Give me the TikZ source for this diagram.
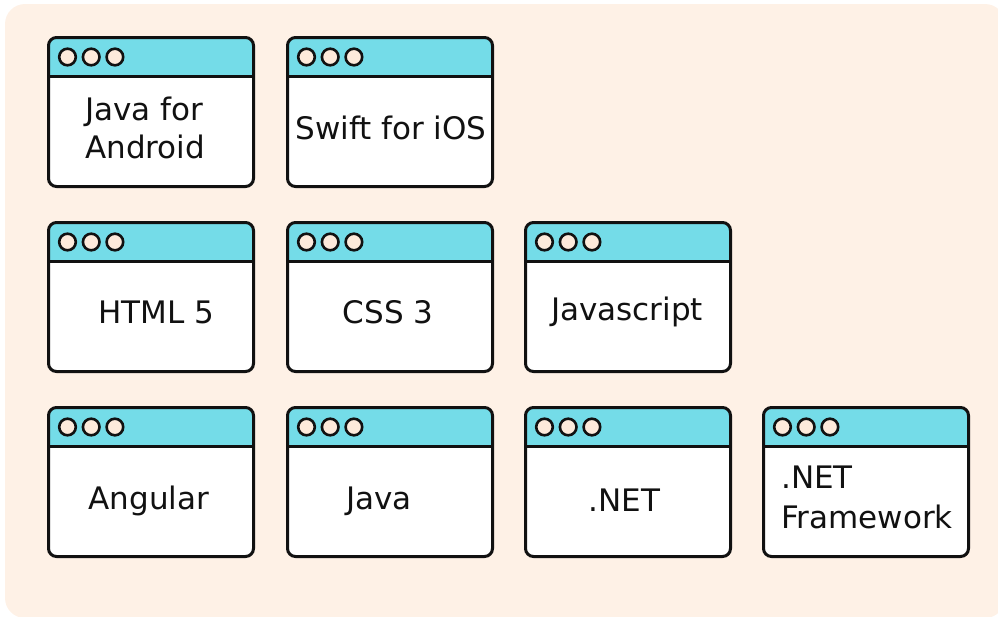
\documentclass[tikz,border=0pt]{standalone}
\usepackage{fontspec}
\setmainfont{DejaVu Sans}
\definecolor{bg}{HTML}{FEF1E6}
\definecolor{bar}{HTML}{74DCE8}
\definecolor{dot}{HTML}{FDEADB}
\definecolor{ink}{HTML}{111111}
\newcommand\winbox[2]{%
 \begin{scope}[shift={(#1,#2)}]
  \fill[white, rounded corners=8pt] (0,0) rectangle (205,149);
  \begin{scope}
   \clip (-2,-2) rectangle (207,38.5);
   \fill[bar, rounded corners=8pt] (0,0) rectangle (205,149);
  \end{scope}
  \draw[boxline] (0,38.5) -- (205,38.5);
  \draw[boxline, rounded corners=8pt] (0,0) rectangle (205,149);
  \foreach \i in {0,1,2} \draw[line width=2.6pt, draw=ink, fill=dot] (19+23.7*\i,19.5) circle (8.3pt);
 \end{scope}}
\begin{document}
\begin{tikzpicture}[x=1pt,y=-1pt,
  boxline/.style={line width=3pt, draw=ink},
  lbl/.style={inner sep=0pt, text=ink, font=\fontsize{31}{38}\selectfont},
  lbl2/.style={inner sep=0pt, text=ink, font=\fontsize{31}{40}\selectfont}]
\useasboundingbox (0,0) rectangle (998,616);
\fill[bg, rounded corners=20pt] (5,4) rectangle (1005,618);
% windows
\winbox{48.5}{37.5}
\winbox{287.5}{37.5}
\winbox{48.5}{222.5}
\winbox{287.5}{222.5}
\winbox{525.5}{222.5}
\winbox{48.5}{407.5}
\winbox{287.5}{407.5}
\winbox{525.5}{407.5}
\winbox{763.5}{407.5}
% labels
\node[lbl, anchor=base west] (jfa) at (85,120) {\begin{tabular}[t]{@{}l@{}}Java for\\Android\end{tabular}};
\node[lbl, anchor=base] (swift) at (391,139) {Swift for iOS};
\node[lbl, anchor=base] (html) at (156,323) {HTML 5};
\node[lbl, anchor=base] (css) at (388,323) {CSS 3};
\node[lbl, anchor=base] (js) at (627,320) {Javascript};
\node[lbl, anchor=base] (ang) at (149,509) {Angular};
\node[lbl, anchor=base] (java) at (379,509) {Java};
\node[lbl, anchor=base] (net) at (624.5,511) {.NET};
\node[lbl2, anchor=base west] (netfw) at (781,488) {\begin{tabular}[t]{@{}l@{}}.NET\\Framework\end{tabular}};
\end{tikzpicture}
\end{document}
